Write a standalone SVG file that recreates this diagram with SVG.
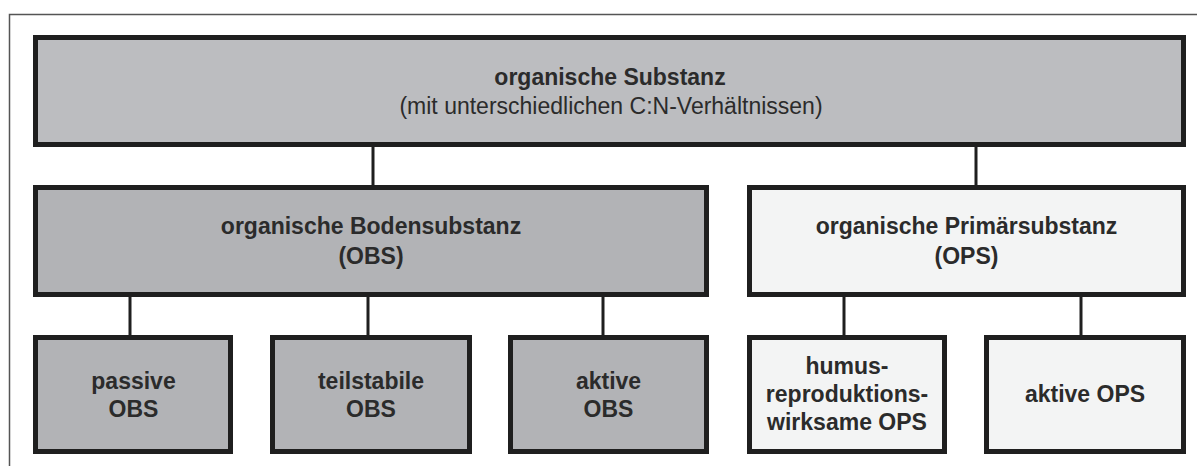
<svg xmlns="http://www.w3.org/2000/svg" width="1197" height="466" viewBox="0 0 1197 466">
<style>
.box{stroke:#1f1f1f;stroke-width:5}
.dark{fill:#b2b3b6}
.top{fill:#bcbdc0}
.light{fill:#f3f4f4}
.t{font-family:"Liberation Sans",Arial,sans-serif;font-size:23px;fill:#2b2b2b;text-anchor:middle}
.b{font-weight:bold}
.con line{stroke:#1f1f1f;stroke-width:3}
</style>
<rect width="1197" height="466" fill="#ffffff"/>
<rect x="9.5" y="14.5" width="1200" height="470" fill="none" stroke="#555" stroke-width="1.5"/>
<g id="connectors" class="con">
<line x1="373" y1="146" x2="373" y2="186"/>
<line x1="976" y1="146" x2="976" y2="186"/>
<line x1="130" y1="296" x2="130" y2="336"/>
<line x1="368" y1="296" x2="368" y2="336"/>
<line x1="603" y1="296" x2="603" y2="336"/>
<line x1="844" y1="296" x2="844" y2="336"/>
<line x1="1081" y1="296" x2="1081" y2="336"/>
</g>
<g id="organische-substanz">
<rect class="box top" x="35.5" y="37.5" width="1148" height="107"/>
<text class="t b" x="610" y="85">organische Substanz</text>
<text class="t" x="611" y="113.5">(mit unterschiedlichen C:N-Verhältnissen)</text>
</g>
<g id="obs">
<rect class="box dark" x="35.5" y="187.5" width="671" height="107"/>
<text class="t b" x="371" y="233.5">organische Bodensubstanz</text>
<text class="t b" x="371" y="263.5">(OBS)</text>
</g>
<g id="ops">
<rect class="box light" x="749.5" y="187.5" width="434" height="107"/>
<text class="t b" x="966.5" y="233.5">organische Primärsubstanz</text>
<text class="t b" x="966.5" y="263.5">(OPS)</text>
</g>
<g id="passive-obs">
<rect class="box dark" x="35.5" y="337.5" width="195" height="114"/>
<text class="t b" x="133.5" y="388.5">passive</text>
<text class="t b" x="133.5" y="416.5">OBS</text>
</g>
<g id="teilstabile-obs">
<rect class="box dark" x="272.5" y="337.5" width="197" height="114"/>
<text class="t b" x="371" y="388.5">teilstabile</text>
<text class="t b" x="371" y="416.5">OBS</text>
</g>
<g id="aktive-obs">
<rect class="box dark" x="510.5" y="337.5" width="196" height="114"/>
<text class="t b" x="608.5" y="388.5">aktive</text>
<text class="t b" x="608.5" y="416.5">OBS</text>
</g>
<g id="humus-ops">
<rect class="box light" x="749.5" y="337.5" width="195" height="114"/>
<text class="t b" x="847" y="374">humus-</text>
<text class="t b" x="847" y="402">reproduktions-</text>
<text class="t b" x="847" y="430">wirksame OPS</text>
</g>
<g id="aktive-ops">
<rect class="box light" x="986.5" y="337.5" width="197" height="114"/>
<text class="t b" x="1085" y="402">aktive OPS</text>
</g>
</svg>
